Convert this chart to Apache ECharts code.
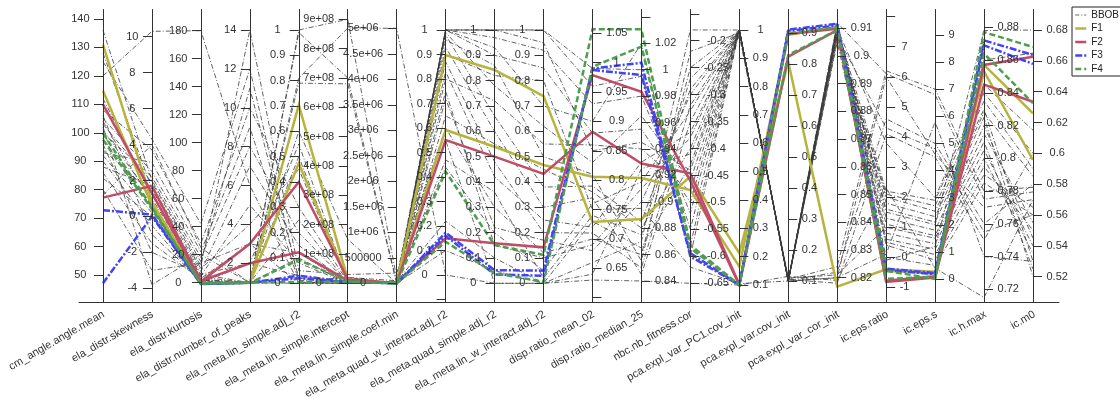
<!DOCTYPE html>
<html>
<head>
<meta charset="utf-8">
<script src="https://cdn.jsdelivr.net/npm/echarts@6/dist/echarts.min.js"></script>
<style>
  html, body { margin: 0; padding: 0; background: #fff; }
  #chart { width: 1120px; height: 399px; }
</style>
</head>
<body>
<div id="chart"></div>
<script>
// Feature axes, in drawing order
const featureNames = [
  'cm_angle.angle.mean', 'ela_distr.skewness', 'ela_distr.kurtosis', 'ela_distr.number_of_peaks',
  'ela_meta.lin_simple.adj_r2', 'ela_meta.lin_simple.intercept', 'ela_meta.lin_simple.coef.min',
  'ela_meta.quad_w_interact.adj_r2', 'ela_meta.quad_simple.adj_r2', 'ela_meta.lin_w_interact.adj_r2',
  'disp.ratio_mean_02', 'disp.ratio_median_25', 'nbc.nb_fitness.cor', 'pca.expl_var_PC1.cov_init',
  'pca.expl_var.cov_init', 'pca.expl_var_cor_init', 'ic.eps.ratio', 'ic.eps.s', 'ic.h.max', 'ic.m0'
];

// Axis extents
const axisMin = [40.33, -4.79, -14.14, -0.016, -0.0758, -0.6545e8, -3.765e5, -0.1122, -0.0758, -0.0758,
  0.5918, 0.8237, -0.6856, 0.0382, 0.0306, 0.81105, -1.505, -0.8668, 0.71194, 0.50327];
const axisMax = [143.34, 11.514, 195.14, 15.054, 1.0809, 9.334e8, 5.3686e6, 1.0837, 1.0809, 1.0809,
  1.0905, 1.0456, -0.1421, 1.0724, 0.9769, 0.91678, 8.237, 9.9406, 0.89087, 0.6933];

// Labelled tick values per axis
const unitTicks = [0, 0.1, 0.2, 0.3, 0.4, 0.5, 0.6, 0.7, 0.8, 0.9, 1];
const tickLabels = [
  [50, 60, 70, 80, 90, 100, 110, 120, 130, 140],
  [-4, -2, 0, 2, 4, 6, 8, 10],
  [0, 20, 40, 60, 80, 100, 120, 140, 160, 180],
  [2, 4, 6, 8, 10, 12, 14],
  unitTicks,
  [0, 1e8, 2e8, 3e8, 4e8, 5e8, 6e8, 7e8, 8e8, 9e8],
  [0, 5e5, 1e6, 1.5e6, 2e6, 2.5e6, 3e6, 3.5e6, 4e6, 4.5e6, 5e6],
  unitTicks,
  unitTicks,
  unitTicks,
  [0.65, 0.7, 0.75, 0.8, 0.85, 0.9, 0.95, 1, 1.05],
  [0.84, 0.86, 0.88, 0.9, 0.92, 0.94, 0.96, 0.98, 1, 1.02],
  [-0.65, -0.6, -0.55, -0.5, -0.45, -0.4, -0.35, -0.3, -0.25, -0.2],
  [0.1, 0.2, 0.3, 0.4, 0.5, 0.6, 0.7, 0.8, 0.9, 1],
  [0.1, 0.2, 0.3, 0.4, 0.5, 0.6, 0.7, 0.8, 0.9],
  [0.82, 0.83, 0.84, 0.85, 0.86, 0.87, 0.88, 0.89, 0.9, 0.91],
  [-1, 0, 1, 2, 3, 4, 5, 6, 7],
  [0, 1, 2, 3, 4, 5, 6, 7, 8, 9],
  [0.72, 0.74, 0.76, 0.78, 0.8, 0.82, 0.84, 0.86, 0.88],
  [0.52, 0.54, 0.56, 0.58, 0.6, 0.62, 0.64, 0.66, 0.68]
];
// Tick marks drawn without a label
const unlabelledTicks = { 7: [-0.1], 10: [0.6], 11: [1.04], 12: [-0.15], 16: [8] };

// Rows: one value per feature axis
const bbob = [
  [136, 2.0, 12, 14, 0.05, 3e7, 2e5, 0.6, 0.3, 0.12, 0.70, 0.86, -0.25, 1.0, 0.1, 0.82, 6.0, 4.6, 0.77, 0.57],
  [128, 1.5, 6, 1, 1.0, 9.0e8, 1e5, 1.0, 1.0, 1.0, 0.99, 1.0, -0.6, 1.0, 0.098, 0.911, 1.5, 2.0, 0.878, 0.68],
  [125, 4.3, 42, 12, 0.01, 2e7, 5e4, 0.44, 0.2, 0.05, 0.76, 0.915, -0.33, 1.0, 0.102, 0.822, 4.6, 5.0, 0.76, 0.58],
  [120, 10.3, 180, 6, 0.0, 1e7, 3e4, 0.22, 0.1, 0.0, 0.63, 0.84, -0.65, 0.1, 0.115, 0.819, 2.3, 0.4, 0.715, 0.57],
  [112, 1.2, 4, 1, 0.99, 7.0e8, 2e4, 1.0, 1.0, 0.95, 0.85, 0.945, -0.44, 1.0, 0.1, 0.908, 2.0, 2.5, 0.83, 0.53],
  [108, 3.7, 28, 10, 0.3, 5e6, 1e4, 0.98, 0.66, 0.38, 0.79, 0.885, -0.29, 1.0, 0.104, 0.91, 3.8, 3.0, 0.845, 0.615],
  [106, -1.0, 1.5, 1, 0.81, 8.7e8, 5e6, 0.0, 0.0, 0.0, 0.66, 0.87, -0.18, 1.0, 0.1, 0.912, 6.1, 6.8, 0.775, 0.575],
  [105, 2.5, 18, 8, 0.2, 2e6, 5e3, 0.83, 0.42, 0.25, 0.72, 0.93, -0.37, 1.0, 0.097, 0.906, 1.8, 2.3, 0.828, 0.585],
  [104, 0.8, 2, 1, 0.79, 6.8e8, 2e3, 1.0, 0.97, 0.92, 0.93, 0.98, -0.52, 1.0, 0.1, 0.909, 0.8, 1.3, 0.805, 0.54],
  [103, 1.9, 10, 4, 0.45, 1e6, 1e3, 0.96, 0.86, 0.5, 0.81, 0.855, -0.22, 0.99, 0.103, 0.907, 4.3, 4.8, 0.755, 0.56],
  [102, -3.8, 20, 1, 0.6, 1.5e8, 500, 1.0, 0.93, 0.7, 0.9, 1.02, -0.58, 1.0, 0.1, 0.911, 1.3, 1.8, 0.82, 0.545],
  [101, 1.0, 3, 3, 0.12, 5e5, 300, 0.72, 0.22, 0.17, 0.68, 0.9, -0.3, 1.0, 0.099, 0.91, 2.2, 2.9, 0.84, 0.6],
  [100, 2.2, 15, 11, 0.02, 2e5, 200, 0.47, 0.36, 0.02, 0.74, 0.875, -0.27, 1.0, 0.106, 0.824, 6.2, 7.0, 0.78, 0.578],
  [98, 0.5, 1, 1, 0.7, 2e7, 100, 1.0, 1.0, 1.0, 0.96, 0.995, -0.55, 1.0, 0.1, 0.912, 0.6, 1.1, 0.8, 0.535],
  [96, -2.0, 6, 2, 0.55, 1e5, 50, 0.99, 0.78, 0.62, 0.83, 0.965, -0.46, 1.0, 0.101, 0.909, 1.1, 1.6, 0.815, 0.555],
  [94, 1.3, 5, 5, 0.08, 5e4, 20, 0.87, 0.48, 0.2, 0.71, 0.85, -0.32, 1.0, 0.098, 0.907, 2.1, 2.7, 0.835, 0.59],
  [93, 3.0, 22, 9, 0.005, 2e4, 10, 0.1, 0.05, 0.0, 0.64, 0.925, -0.41, 0.98, 0.11, 0.821, 1.0, 1.5, 0.81, 0.525],
  [92, 0.2, 0.5, 1, 0.5, 1e4, 5, 1.0, 0.9, 0.85, 0.88, 0.955, -0.5, 1.0, 0.1, 0.91, 0.4, 0.7, 0.79, 0.565],
  [90, -0.5, -0.3, 1, 0.25, 5e3, 2, 0.93, 0.6, 0.3, 0.77, 0.845, -0.35, 1.0, 0.1, 0.908, 1.6, 2.1, 0.825, 0.52],
  [88, 1.7, 8, 7, 0.15, 1e3, 1, 0.75, 0.15, 0.1, 0.69, 0.91, -0.38, 1.0, 0.105, 0.818, 4.1, 4.5, 0.75, 0.6],
  [86, -1.5, 2.5, 1, 0.1, 500, 0, 0.65, 0.55, 0.45, 0.78, 0.88, -0.4, 1.0, 0.1, 0.911, 0.0, 0.5, 0.785, 0.56],
  [84, 0.0, 0, 2, 0.03, 100, 0, 0.8, 0.72, 0.55, 0.86, 0.94, -0.48, 1.0, 0.1, 0.905, -0.1, 1.2, 0.86, 0.665],
  [80, -3.0, 14, 3, 0.0, 10, 0, 0.55, 0.0, 0.0, 0.73, 0.865, -0.43, 1.0, 0.1, 0.91, 0.5, 0.9, 0.795, 0.55],
  [78, 4.0, 25, 1, 0.0, 0, 0, 0.9, 0.82, 0.8, 0.75, 0.895, -0.62, 0.105, 0.1, 0.82, 0.1, 5.8, 0.74, 0.53]
];
const f1 = [
  [131, 0.8, -0.3, 1, 0.704, 1.2e7, 2000, 0.898, 0.842, 0.739, 0.729, 0.887, -0.452, 0.212, 0.808, 0.8168, -0.40, 0.27, 0.853, 0.5957],
  [114.8, 0.6, -0.5, 1, 0.474, 8e6, 1500, 0.592, 0.539, 0.467, 0.806, 0.918, -0.477, 0.165, 0.895, 0.9105, -0.45, 0.2, 0.857, 0.626]
];
const f2 = [
  [110, 1.3, 0.8, 3, 0.40, 1.4e7, 3000, 0.551, 0.5, 0.432, 0.8825, 0.929, -0.446, 0.102, 0.825, 0.9093, -0.82, 0.05, 0.845, 0.6335],
  [77.2, 1.7, 1.2, 2, 0.122, 9e6, 2500, 0.15, 0.158, 0.142, 0.979, 0.9833, -0.46, 0.1, 0.898, 0.9098, -0.78, 0.1, 0.857, 0.6627]
];
const f3 = [
  [72.8, 0.1, -0.8, 1, 0.03, 5e6, 500, 0.173, 0.052, 0.05, 0.99, 1.0053, -0.6, 0.1, 0.912, 0.9116, -0.38, 0.22, 0.872, 0.6638],
  [47.1, 0.0, -1.0, 1, 0.02, 4e6, 400, 0.16, 0.035, 0.03, 0.9875, 0.996, -0.594, 0.1, 0.908, 0.911, -0.42, 0.18, 0.869, 0.658]
];
const f4 = [
  [99.8, 0.5, -0.6, 1, 0.092, 7e6, 800, 0.422, 0.151, 0.112, 1.057, 1.0306, -0.579, 0.1, 0.9, 0.9104, -0.45, 0.0, 0.877, 0.669],
  [97.5, 0.4, -0.4, 1, 0.005, 6e6, 700, 0.136, 0.04, 0.006, 0.993, 1.0175, -0.585, 0.1, 0.83, 0.9093, -0.72, 0.08, 0.864, 0.6325]
];

const groupNames = ['BBOB', 'F1', 'F2', 'F3', 'F4'];
const groupRows = [bbob, f1, f2, f3, f4];
const groupStyles = {
  BBOB: { color: '#3a3a3a', width: 0.8, type: [5, 2, 1, 2] },
  F1: { color: '#b7b33f', width: 2.5, type: 'solid' },
  F2: { color: '#c04d67', width: 2.5, type: 'solid' },
  F3: { color: '#4343f6', width: 2.5, type: [7, 2, 2, 2] },
  F4: { color: '#4f9d4f', width: 2.5, type: [6, 3] }
};

const font = "'Liberation Sans', Arial, sans-serif";
const ink = '#333';
const labelSize = 11;

// printf("%g")-style numbers
function gfmt(v) {
  if (v === 0) return '0';
  const e = Math.floor(Math.log10(Math.abs(v)) + 1e-9);
  if (e >= 6 || e < -4) {
    const m = parseFloat((v / Math.pow(10, e)).toPrecision(6));
    return m + 'e' + (e < 0 ? '-' : '+') + String(Math.abs(e)).padStart(2, '0');
  }
  return String(parseFloat(v.toPrecision(6)));
}

// Tick labels sit centred in a column beside the tick marks
const measureCtx = document.createElement('canvas').getContext('2d');
measureCtx.font = labelSize + 'px ' + font;
function widestLabel(values) {
  return Math.max.apply(null, values.map(v => measureCtx.measureText(gfmt(v)).width));
}
const labelGap = 13.5;

const parallelAxis = featureNames.map((name, i) => {
  const onRight = i >= 10;
  const marks = tickLabels[i].concat(unlabelledTicks[i] || []);
  const offset = labelGap + widestLabel(tickLabels[i]) / 2;
  return {
    dim: i,
    name: '',
    type: 'value',
    min: axisMin[i],
    max: axisMax[i],
    axisLine: { lineStyle: { color: ink, width: 1 } },
    axisTick: { show: true, length: onRight ? 9 : -9, lineStyle: { color: ink, width: 1 }, customValues: marks },
    axisLabel: {
      show: true,
      margin: onRight ? offset : -offset,
      align: 'center',
      fontSize: labelSize,
      color: ink,
      fontFamily: font,
      customValues: tickLabels[i],
      formatter: gfmt
    },
    splitLine: { show: false }
  };
});

const series = [];
// Key entries: empty line series so each swatch shows its line style
groupNames.forEach(name => {
  const s = groupStyles[name];
  series.push({
    type: 'line', name, data: [], symbol: 'none',
    xAxisIndex: 0, yAxisIndex: 0,
    color: s.color,
    lineStyle: { color: name === 'BBOB' ? '#666' : s.color, width: Math.max(s.width, 1.2), type: name === 'BBOB' ? [4, 2, 1, 2] : s.type }
  });
});
groupNames.forEach((name, gi) => {
  const s = groupStyles[name];
  series.push({
    type: 'parallel', name, parallelIndex: 0,
    data: groupRows[gi],
    color: s.color,
    silent: true,
    z: 2 + gi,
    lineStyle: { color: s.color, width: s.width, type: s.type, opacity: 1 },
    emphasis: { disabled: true }
  });
});

const chart = echarts.init(document.getElementById('chart'), null, { renderer: 'canvas' });
chart.setOption({
  animation: false,
  backgroundColor: '#fff',
  textStyle: { fontFamily: font },
  parallel: {
    left: 103, right: 87, top: 9.5, bottom: 96.5,
    parallelAxisDefault: { nameTextStyle: { fontSize: 0 } }
  },
  parallelAxis,
  grid: { left: 79, right: 61, top: 9.5, bottom: 96.5, outerBoundsMode: 'none', containLabel: false },
  xAxis: {
    type: 'category', data: featureNames, boundaryGap: true,
    axisLine: { lineStyle: { color: ink, width: 1 } },
    axisTick: { show: false },
    splitLine: { show: false },
    axisLabel: { interval: 0, rotate: 30, margin: 11, fontSize: 11, color: ink, fontFamily: font }
  },
  yAxis: { type: 'value', show: false, min: 0, max: 1 },
  legend: {
    data: groupNames.map(name => ({
      name,
      lineStyle: { width: name === 'BBOB' ? 1.2 : 2.5 }
    })),
    orient: 'vertical',
    left: 1072, top: 7,
    padding: [3, 18, 2, 2],
    itemWidth: 11, itemHeight: 10, itemGap: 3.5,
    itemStyle: { opacity: 0 },
    lineStyle: { width: 2.5 },
    borderColor: '#222', borderWidth: 1, borderRadius: 0,
    backgroundColor: '#fff',
    selectedMode: false,
    textStyle: { fontSize: 10, lineHeight: 10, color: '#222', fontFamily: font }
  },
  series
});
</script>
</body>
</html>
